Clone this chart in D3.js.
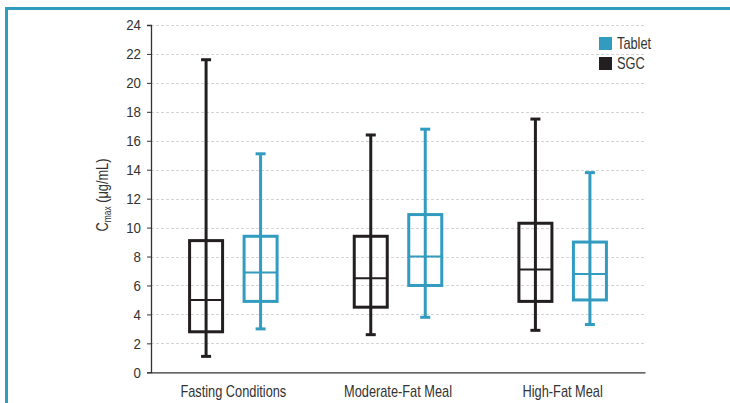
<!DOCTYPE html>
<html>
<head>
<meta charset="utf-8">
<script src="https://cdn.jsdelivr.net/npm/d3@7"></script>
<style>
  html, body { margin: 0; padding: 0; background: #fff; }
  svg { display: block; }
  text { font-family: "Liberation Sans", Arial, sans-serif; fill: #333; }
</style>
</head>
<body>
<svg id="chart" width="730" height="403"></svg>
<script>
// Meal conditions along the x axis
const categories = ["Fasting Conditions", "Moderate-Fat Meal", "High-Fat Meal"];
const seriesNames = ["SGC", "Tablet"];
// Cmax (µg/mL) summary per condition: min, Q1, median, Q3, max
const sgcMin    = [1.1, 2.6, 2.9];
const sgcQ1     = [2.8, 4.5, 4.9];
const sgcMedian = [5.0, 6.5, 7.1];
const sgcQ3     = [9.1, 9.4, 10.3];
const sgcMax    = [21.6, 16.4, 17.5];
const tabMin    = [3.0, 3.8, 3.3];
const tabQ1     = [4.9, 6.0, 5.0];
const tabMedian = [6.9, 8.0, 6.8];
const tabQ3     = [9.4, 10.9, 9.0];
const tabMax    = [15.1, 16.8, 13.8];
const yTicks = [0, 2, 4, 6, 8, 10, 12, 14, 16, 18, 20, 22, 24];

const colors = { SGC: "#231f20", Tablet: "#329cc0" };
const narrow = 0.8;      // horizontal squeeze for a condensed look
const narrowTick = 0.86; // digits are a little wider

const boxes = [];
categories.forEach((c, i) => {
  boxes.push({ cat: c, series: "SGC", min: sgcMin[i], q1: sgcQ1[i], med: sgcMedian[i], q3: sgcQ3[i], max: sgcMax[i] });
  boxes.push({ cat: c, series: "Tablet", min: tabMin[i], q1: tabQ1[i], med: tabMedian[i], q3: tabQ3[i], max: tabMax[i] });
});

const svg = d3.select("#chart");

// outer frame (top and left rules)
svg.append("line").attr("x1", 6.5).attr("x2", 6.5).attr("y1", 8).attr("y2", 403)
  .attr("stroke", "#329cc0").attr("stroke-width", 3);
svg.append("line").attr("x1", 5).attr("x2", 730).attr("y1", 8.5).attr("y2", 8.5)
  .attr("stroke", "#329cc0").attr("stroke-width", 3);

const plotLeft = 151, plotRight = 645, plotTop = 25, plotBottom = 372.3;

const x = d3.scaleBand().domain(categories).range([plotLeft, plotRight]).padding(0);
const xs = d3.scaleBand().domain(seriesNames).range([-54.5, 54.5]).padding(0);
const y = d3.scaleLinear().domain([0, 24]).range([plotBottom, plotTop]);

// dashed gridlines
svg.append("g").selectAll("line").data(yTicks.filter(t => t > 0)).join("line")
  .attr("x1", plotLeft).attr("x2", plotRight)
  .attr("y1", d => Math.round(y(d)) + 0.5).attr("y2", d => Math.round(y(d)) + 0.5)
  .attr("stroke", "#d4d4d4").attr("stroke-width", 1).attr("stroke-dasharray", "3,2");

// y axis
const yAxis = svg.append("g").attr("transform", `translate(${plotLeft},0)`)
  .call(d3.axisLeft(y).tickValues(yTicks).tickSize(4).tickPadding(6));
yAxis.select(".domain").attr("stroke", "#333").attr("stroke-width", 1.3);
yAxis.selectAll(".tick line").attr("stroke", "#333");
yAxis.selectAll(".tick text")
  .attr("font-size", 15.5).attr("fill", "#333")
  .style("font-family", "'Liberation Sans', Arial, sans-serif")
  .attr("x", -10 / narrowTick)
  .attr("transform", `scale(${narrowTick},1)`);

// x axis
const xAxis = svg.append("g").attr("transform", `translate(0,${plotBottom})`)
  .call(d3.axisBottom(x).tickSize(0).tickPadding(13));
xAxis.select(".domain").attr("stroke", "#333").attr("stroke-width", 1.3);
xAxis.selectAll(".tick text")
  .attr("font-size", 16).attr("fill", "#333")
  .style("font-family", "'Liberation Sans', Arial, sans-serif")
  .attr("transform", `scale(${narrow},1)`);

// y axis title
const yTitle = svg.append("text")
  .attr("transform", `translate(108,195) rotate(-90) scale(${narrow},1)`)
  .attr("text-anchor", "middle").attr("font-size", 16);
yTitle.append("tspan").text("C");
yTitle.append("tspan").attr("font-size", 10.5).attr("dy", 3).text("max");
yTitle.append("tspan").attr("dy", -3).text(" (μg/mL)");

// box plots
const boxW = 33, capW = 10, sw = 3;
const g = svg.append("g").selectAll("g").data(boxes).join("g")
  .attr("transform", d => `translate(${x(d.cat) + x.bandwidth() / 2 + xs(d.series) + xs.bandwidth() / 2},0)`)
  .attr("stroke", d => colors[d.series]).attr("fill", "none").attr("stroke-width", sw);

g.append("line").attr("x1", 0).attr("x2", 0).attr("y1", d => y(d.max)).attr("y2", d => y(d.min));
g.append("line").attr("x1", -capW / 2).attr("x2", capW / 2).attr("y1", d => y(d.max)).attr("y2", d => y(d.max));
g.append("line").attr("x1", -capW / 2).attr("x2", capW / 2).attr("y1", d => y(d.min)).attr("y2", d => y(d.min));
g.append("rect").attr("x", -boxW / 2).attr("width", boxW)
  .attr("y", d => y(d.q3)).attr("height", d => y(d.q1) - y(d.q3));
g.append("line").attr("x1", -boxW / 2).attr("x2", boxW / 2).attr("stroke-width", 2)
  .attr("y1", d => y(d.med)).attr("y2", d => y(d.med));

// legend
const legendItems = ["Tablet", "SGC"];
const lg = svg.append("g").selectAll("g").data(legendItems).join("g")
  .attr("transform", (d, i) => `translate(599,${37 + i * 20})`);
lg.append("rect").attr("width", 13).attr("height", 13).attr("fill", d => colors[d]);
lg.append("text").attr("transform", `translate(18,12) scale(${narrow},1)`)
  .attr("font-size", 16).text(d => d);
</script>
</body>
</html>
